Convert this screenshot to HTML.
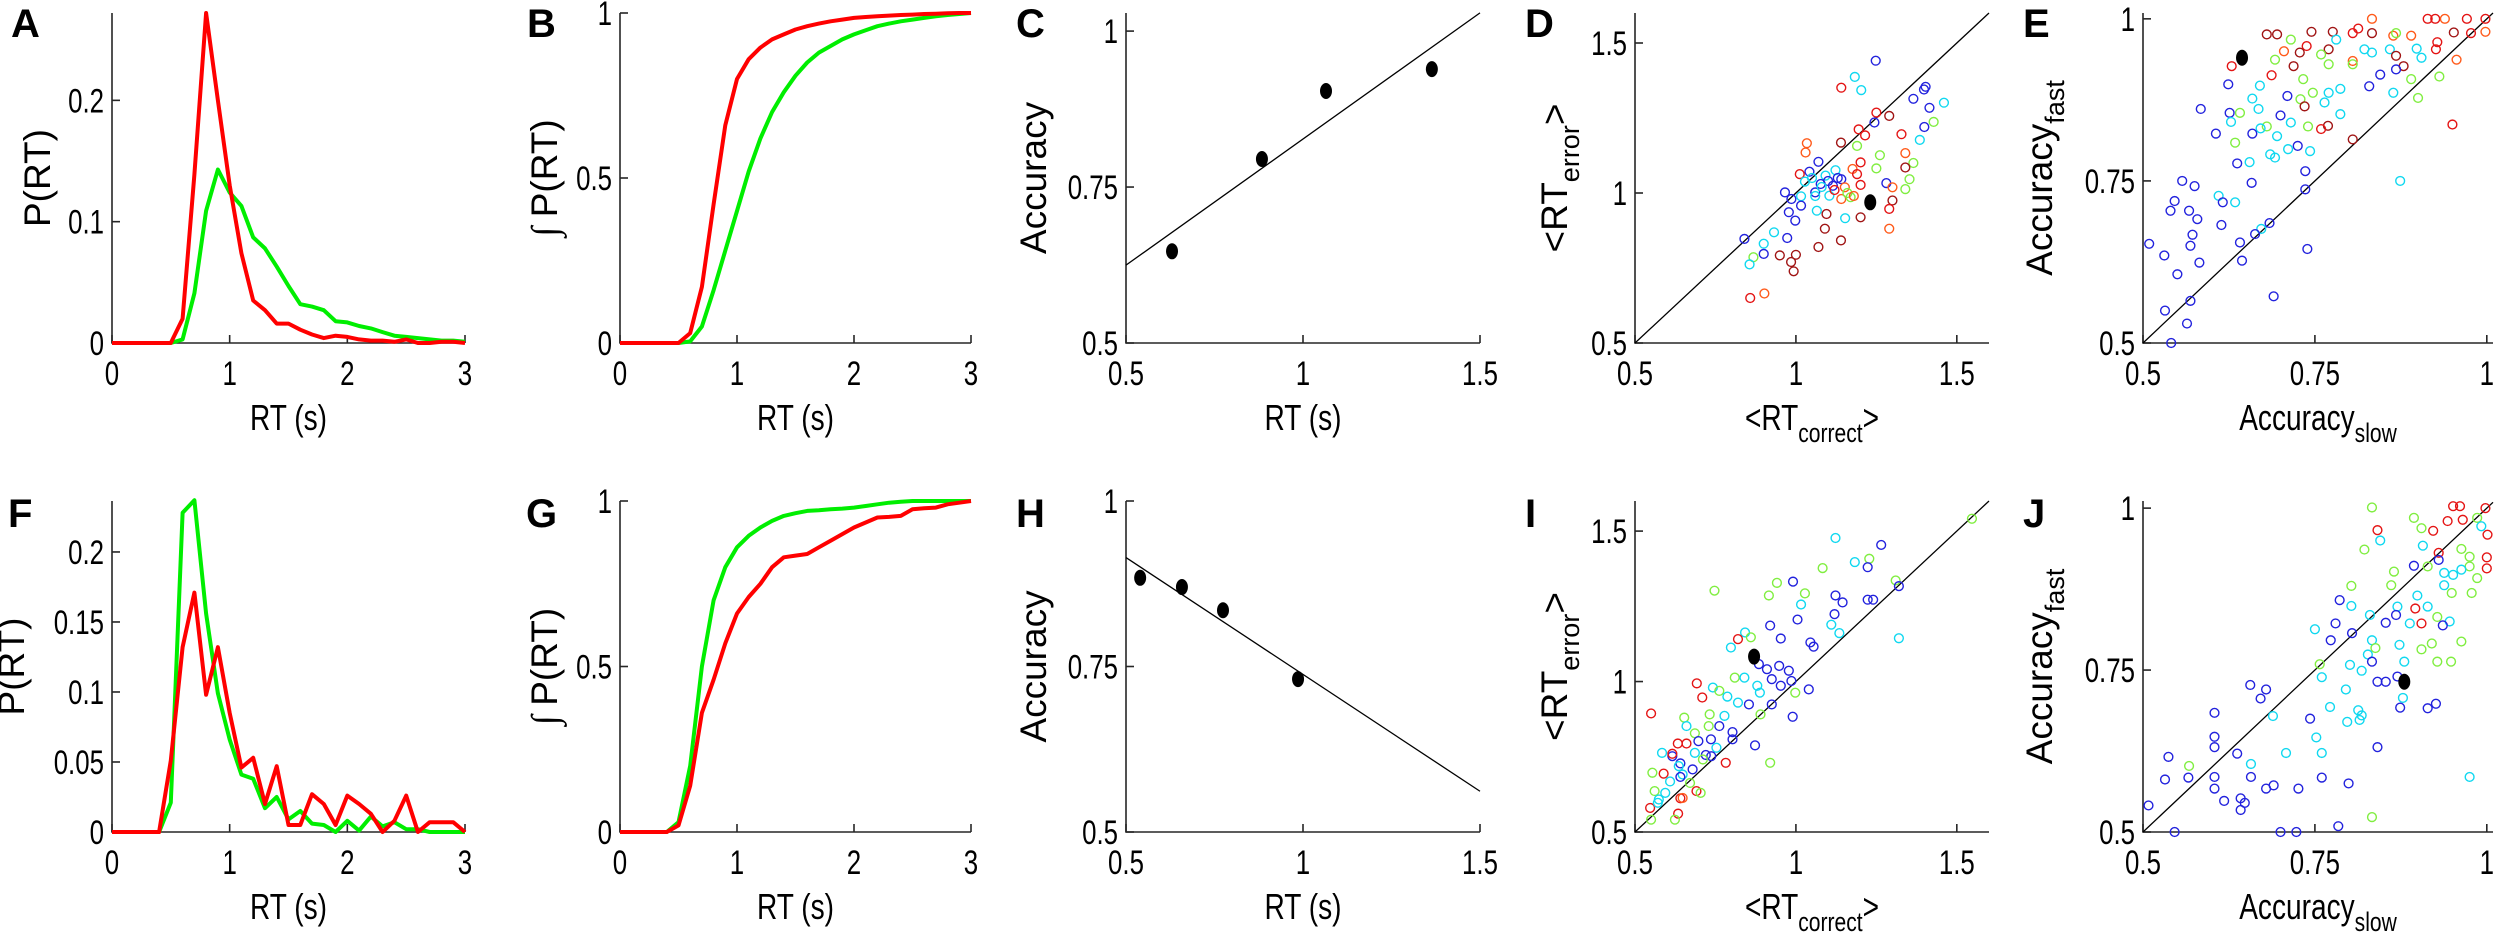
<!DOCTYPE html>
<html><head><meta charset="utf-8">
<style>
html,body{margin:0;padding:0;background:#fff;}
svg{display:block;}
text{font-family:"Liberation Sans",sans-serif;fill:#000;}
</style></head>
<body>
<svg id="fig" width="2500" height="937" viewBox="0 0 2500 937" xmlns="http://www.w3.org/2000/svg"></svg>
<script>
// ---------- DATA ----------
const rtBins = [0,0.1,0.2,0.3,0.4,0.5,0.6,0.7,0.8,0.9,1.0,1.1,1.2,1.3,1.4,1.5,1.6,1.7,1.8,1.9,2.0,2.1,2.2,2.3,2.4,2.5,2.6,2.7,2.8,2.9,3.0];
const aRed   = [0,0,0,0,0,0,0.02,0.139,0.272,0.2,0.13,0.074,0.035,0.027,0.016,0.016,0.011,0.007,0.004,0.006,0.005,0.003,0.002,0.002,0.001,0.003,0,0,0.001,0.001,0];
const aGreen = [0,0,0,0,0,0,0.003,0.041,0.109,0.143,0.124,0.113,0.087,0.078,0.063,0.047,0.032,0.030,0.027,0.018,0.017,0.014,0.012,0.009,0.006,0.005,0.004,0.003,0.002,0.002,0.001];
const bRed   = [0,0,0,0,0,0,0.03,0.17,0.42,0.66,0.80,0.86,0.895,0.92,0.935,0.95,0.96,0.968,0.975,0.98,0.985,0.988,0.99,0.992,0.994,0.995,0.997,0.998,0.999,1,1];
const bGreen = [0,0,0,0,0,0,0.005,0.05,0.16,0.28,0.40,0.52,0.62,0.70,0.76,0.81,0.85,0.88,0.90,0.92,0.935,0.948,0.96,0.968,0.975,0.98,0.985,0.99,0.994,0.997,1];
const fRed   = [0,0,0,0,0,0.051,0.132,0.171,0.098,0.132,0.085,0.046,0.053,0.02,0.047,0.005,0.005,0.027,0.02,0.005,0.026,0.02,0.013,0,0.008,0.026,0,0.007,0.007,0.007,0];
const fGreen = [0,0,0,0,0,0.021,0.228,0.237,0.156,0.099,0.066,0.041,0.038,0.017,0.025,0.009,0.015,0.006,0.005,0,0.008,0.001,0.011,0.004,0.007,0.002,0.002,0,0,0,0];
const gRed   = [0,0,0,0,0,0.02,0.14,0.36,0.46,0.57,0.66,0.71,0.75,0.80,0.83,0.835,0.84,0.86,0.88,0.90,0.92,0.935,0.95,0.952,0.955,0.975,0.978,0.98,0.99,0.995,1];
const gGreen = [0,0,0,0,0,0.03,0.2,0.5,0.70,0.80,0.86,0.895,0.92,0.94,0.955,0.963,0.97,0.972,0.975,0.977,0.98,0.985,0.99,0.995,0.998,1,1,1,1,1,1];
const cRT  = [0.63,0.884,1.065,1.364];
const cAcc = [0.647,0.795,0.904,0.939];
const hRT  = [0.54,0.658,0.774,0.986];
const hAcc = [0.884,0.870,0.835,0.731];
// scatter D
const dX = [1.248,1.183,1.141,1.203,1.403,1.398,1.365,1.46,1.415,1.29,1.25,1.244,1.428,1.399,1.195,1.215,1.328,1.385,1.14,1.034,1.19,1.34,1.03,1.261,1.201,1.365,1.34,1.07,1.123,1.176,1.25,1.042,1.012,1.092,1.141,1.19,1.353,0.966,1.028,1.077,1.115,1.152,1.201,1.281,1.3,1.34,0.986,1.016,1.06,1.104,1.141,1.17,1.3,1.016,1.065,1.095,1.153,0.978,1.29,1.201,0.998,1.09,1.29,0.932,0.973,0.84,1.14,0.9,1.07,0.95,0.9,1.0,0.868,0.856,0.985,0.993,0.858,0.902,1.05,1.1,1.12,1.08,1.16,1.13,1.06,1.18];
const dY = [1.441,1.387,1.351,1.343,1.354,1.345,1.314,1.301,1.284,1.257,1.268,1.235,1.237,1.22,1.212,1.192,1.196,1.177,1.168,1.166,1.157,1.133,1.135,1.126,1.102,1.1,1.085,1.104,1.076,1.08,1.082,1.071,1.063,1.058,1.046,1.063,1.046,1.002,1.038,1.03,1.024,1.019,1.027,1.033,1.019,1.013,0.98,0.989,1.002,0.991,0.98,0.986,0.975,0.958,0.941,0.93,0.916,0.936,0.947,0.919,0.908,0.881,0.881,0.869,0.85,0.847,0.842,0.831,0.82,0.792,0.797,0.794,0.786,0.762,0.77,0.739,0.65,0.665,1.05,1.04,1.01,1.02,1.0,1.05,0.99,0.99];
const dC = ["b","c","r","c","b","b","b","c","b","dr","r","b","g","b","r","r","r","c","dr","o","g","o","o","g","r","g","dr","b","c","o","g","b","r","c","b","r","g","b","c","b","b","o","r","b","o","g","b","c","b","c","o","g","dr","b","c","dr","c","b","r","dr","b","dr","o","c","b","b","dr","c","dr","dr","b","dr","g","c","dr","dr","r","o","c","b","r","c","g","b","c","o"];
const dSelX = [1.231], dSelY = [0.969];
// scatter E
const eX = [0.833,0.914,0.925,0.939,0.971,0.998,0.864,0.89,0.868,0.805,0.833,0.813,0.745,0.776,0.68,0.695,0.715,0.781,0.928,0.977,0.998,0.952,0.738,0.77,0.822,0.859,0.898,0.926,0.705,0.728,0.759,0.805,0.833,0.868,0.905,0.956,0.692,0.719,0.77,0.805,0.879,0.629,0.687,0.733,0.845,0.868,0.931,0.89,0.624,0.67,0.747,0.787,0.77,0.829,0.659,0.71,0.729,0.764,0.864,0.9,0.584,0.641,0.668,0.735,0.626,0.7,0.787,0.628,0.68,0.715,0.74,0.769,0.759,0.671,0.606,0.659,0.695,0.805,0.634,0.725,0.711,0.685,0.743,0.655,0.637,0.692,0.736,0.95,0.874,0.658,0.557,0.575,0.546,0.54,0.567,0.579,0.61,0.616,0.634,0.614,0.684,0.672,0.663,0.572,0.509,0.569,0.641,0.739,0.531,0.582,0.644,0.55,0.736,0.569,0.532,0.69,0.564,0.541];
const eY = [1.0,1.0,1.0,1.0,1.0,1.0,0.974,0.974,0.978,0.978,0.978,0.985,0.98,0.98,0.976,0.976,0.968,0.968,0.964,0.978,0.98,0.979,0.958,0.953,0.953,0.953,0.954,0.953,0.95,0.948,0.945,0.935,0.948,0.943,0.94,0.937,0.937,0.927,0.93,0.93,0.927,0.927,0.913,0.907,0.914,0.922,0.911,0.907,0.899,0.897,0.886,0.892,0.886,0.896,0.877,0.881,0.876,0.871,0.886,0.878,0.861,0.855,0.861,0.865,0.855,0.851,0.853,0.841,0.834,0.84,0.834,0.835,0.83,0.831,0.823,0.823,0.819,0.814,0.809,0.804,0.799,0.791,0.796,0.779,0.777,0.786,0.765,0.837,0.75,0.747,0.75,0.742,0.719,0.704,0.704,0.691,0.727,0.717,0.717,0.682,0.685,0.676,0.668,0.667,0.653,0.65,0.655,0.645,0.635,0.624,0.627,0.606,0.737,0.565,0.55,0.572,0.53,0.5];
const eC = ["o","r","r","o","r","r","o","o","g","r","dr","r","dr","dr","dr","dr","g","c","r","r","o","dr","r","dr","c","c","c","r","o","dr","g","o","c","dr","c","o","g","dr","g","g","dr","r","r","g","b","b","g","g","b","c","g","c","c","b","c","b","g","c","c","g","b","g","c","dr","b","b","c","c","g","c","g","dr","r","c","b","b","c","dr","g","b","c","c","c","c","b","c","b","r","c","b","b","b","b","b","b","b","c","b","c","b","b","c","b","b","b","b","b","b","b","b","b","b","b","b","b","b","b","b"];
const eSelX = [0.644], eSelY = [0.94];
// scatter I
const iX = [1.547,1.123,1.265,1.183,1.228,1.223,1.083,1.31,1.32,0.991,0.941,0.747,1.028,0.916,1.123,1.145,1.223,1.24,1.016,1.12,1.005,0.92,1.11,1.135,1.32,0.953,0.842,0.86,0.82,1.045,1.055,0.798,0.885,0.81,0.84,0.91,0.948,0.978,0.925,0.88,0.953,0.986,1.04,0.998,0.888,0.692,0.742,0.762,0.709,0.787,0.854,0.82,0.925,0.89,0.99,0.778,0.732,0.653,0.55,0.762,0.66,0.729,0.803,0.686,0.873,0.633,0.66,0.697,0.736,0.753,0.803,0.584,0.616,0.686,0.72,0.737,0.782,0.92,0.616,0.641,0.711,0.679,0.636,0.554,0.589,0.648,0.609,0.641,0.671,0.561,0.594,0.641,0.691,0.704,0.574,0.648,0.547,0.571,0.634,0.624,0.55];
const iY = [1.541,1.477,1.454,1.397,1.408,1.38,1.377,1.336,1.317,1.332,1.328,1.302,1.293,1.286,1.286,1.263,1.272,1.272,1.256,1.224,1.206,1.186,1.189,1.161,1.144,1.143,1.163,1.147,1.141,1.13,1.116,1.113,1.058,1.013,1.013,1.041,1.052,1.036,1.008,0.986,0.986,1.002,0.974,0.963,0.963,0.994,0.98,0.969,0.947,0.95,0.924,0.93,0.924,0.891,0.883,0.886,0.891,0.88,0.894,0.852,0.852,0.852,0.832,0.828,0.788,0.794,0.794,0.802,0.808,0.78,0.808,0.763,0.752,0.763,0.756,0.752,0.73,0.73,0.76,0.728,0.741,0.708,0.719,0.697,0.694,0.691,0.668,0.683,0.663,0.636,0.63,0.612,0.636,0.63,0.608,0.613,0.58,0.597,0.561,0.541,0.541];
const iC = ["g","c","b","c","g","b","g","g","b","b","g","g","g","g","b","b","b","b","c","b","b","b","c","c","c","b","c","g","r","b","b","c","b","g","c","b","b","b","b","c","b","b","b","g","c","r","c","g","r","c","b","c","b","g","b","c","g","g","r","b","c","g","b","g","b","r","r","b","b","c","b","c","b","c","b","b","r","g","r","b","g","b","c","g","r","c","c","b","g","g","c","r","r","g","c","o","r","c","r","g","g"];
const iSelX = [0.87], iSelY = [1.083];
// scatter J
const jX = [0.833,0.951,0.961,0.998,0.894,0.905,0.922,0.943,0.965,0.986,0.992,1.001,0.841,0.845,0.822,0.907,0.93,0.963,0.975,1.0,1.0,0.975,0.914,0.93,0.894,0.865,0.938,0.951,0.963,0.986,0.861,0.803,0.938,0.949,0.978,0.899,0.786,0.803,0.87,0.914,0.896,0.83,0.868,0.928,0.905,0.946,0.75,0.78,0.853,0.888,0.936,0.804,0.833,0.773,0.873,0.92,0.963,0.838,0.905,0.827,0.801,0.833,0.88,0.757,0.928,0.948,0.818,0.76,0.841,0.853,0.87,0.656,0.679,0.671,0.795,0.772,0.878,0.874,0.914,0.926,0.604,0.689,0.743,0.813,0.818,0.797,0.815,0.604,0.604,0.752,0.708,0.76,0.841,0.537,0.637,0.657,0.567,0.566,0.532,0.604,0.657,0.76,0.975,0.604,0.69,0.679,0.726,0.799,0.642,0.618,0.648,0.642,0.508,0.833,0.784,0.546,0.7,0.723];
const jY = [1.001,1.003,1.003,1.0,0.985,0.969,0.965,0.98,0.982,0.985,0.972,0.959,0.966,0.95,0.936,0.942,0.931,0.937,0.925,0.924,0.907,0.91,0.91,0.92,0.911,0.902,0.9,0.897,0.905,0.892,0.881,0.88,0.881,0.869,0.869,0.865,0.858,0.849,0.848,0.848,0.845,0.835,0.835,0.832,0.822,0.825,0.813,0.822,0.823,0.822,0.819,0.807,0.796,0.796,0.789,0.791,0.794,0.784,0.782,0.774,0.758,0.763,0.763,0.759,0.763,0.763,0.749,0.739,0.732,0.732,0.74,0.727,0.72,0.706,0.72,0.693,0.707,0.692,0.691,0.698,0.684,0.679,0.675,0.688,0.68,0.67,0.673,0.647,0.631,0.646,0.622,0.622,0.631,0.616,0.621,0.605,0.602,0.584,0.581,0.585,0.585,0.584,0.585,0.567,0.572,0.567,0.567,0.575,0.552,0.548,0.545,0.534,0.541,0.523,0.509,0.5,0.5,0.5];
const jC = ["g","r","r","r","g","g","r","r","r","g","c","r","r","c","g","c","r","g","g","r","r","g","g","b","b","g","c","c","c","g","g","g","c","g","g","c","b","c","c","c","r","c","b","g","r","c","c","b","b","c","b","b","c","b","c","g","g","g","g","c","c","b","c","g","g","g","c","c","b","b","b","b","b","b","c","c","c","b","b","b","b","c","b","c","c","c","c","b","b","c","c","c","b","b","b","c","g","b","b","b","b","b","c","b","b","b","b","b","b","b","b","b","b","g","b","b","b","b"];
const jSelX = [0.88], jSelY = [0.732];

// ---------- HELPERS ----------
const NS = "http://www.w3.org/2000/svg";
const svg = document.getElementById("fig");
const COLORS = {b:"#2222dd", c:"#10d8f0", g:"#80ee40", o:"#ff5a1a", r:"#e41414", dr:"#a01414"};
function mk(tag, attrs, parent){
  const e = document.createElementNS(NS, tag);
  for (const k in attrs) e.setAttribute(k, attrs[k]);
  (parent||svg).appendChild(e);
  return e;
}
function narrow(t, f){
  const w = t.getComputedTextLength();
  if (w > 0){ t.setAttribute("textLength", (w*f).toFixed(1)); t.setAttribute("lengthAdjust","spacingAndGlyphs"); }
}
function makeAxes(p){
  const g = mk("g", {});
  
  
  p.sx = v => p.L + (v - p.x0)/(p.x1 - p.x0)*(p.R - p.L);
  p.sy = v => p.B - (v - p.y0)/(p.y1 - p.y0)*(p.B - p.T);
  p.g = g;
  const ax = mk("path", {d:`M${p.L},${p.T}V${p.B}H${p.R}`, fill:"none", stroke:"#262626", "stroke-width":1.6}, g);
  
  
  p.xt.forEach((v,i) => {
    const x = p.sx(v);
    mk("line", {x1:x, x2:x, y1:p.B, y2:p.B-8, stroke:"#262626","stroke-width":1.6}, g);
    const t = mk("text", {x:x, y:p.B+42, "text-anchor":"middle", "font-size":34}, g);
    t.textContent = p.xtl[i];
    
    
    narrow(t, 0.76);
  });
  p.yt.forEach((v,i) => {
    const y = p.sy(v);
    mk("line", {x1:p.L, x2:p.L+8, y1:y, y2:y, stroke:"#262626","stroke-width":1.6}, g);
    const t = mk("text", {x:p.L-8, y:y+12, "text-anchor":"end", "font-size":34}, g);
    t.textContent = p.ytl[i];
    
    
    narrow(t, 0.76);
  });
  const L = mk("text", {x:p.lx, y:p.ly, "font-size":40, "font-weight":"bold"}, g);
  L.textContent = p.letter;
  
  
  return p;
}
function xlabel(p, parts){
  const t = mk("text", {x:(p.L+p.R)/2, y:p.B+87, "text-anchor":"middle", "font-size":36}, p.g);
  
  
  parts.forEach(s => {
    const ts = mk("tspan", {}, t);
    if (s.sub){ ts.setAttribute("font-size", 27); ts.setAttribute("dy", 12); }
    else if (s.after){ ts.setAttribute("dy", -12); }
    ts.textContent = s.t;
  });
  narrow(t, 0.78);
}
function ylabel(p, x, parts){
  const cy = (p.T+p.B)/2;
  const t = mk("text", {x:x, y:cy, "text-anchor":"middle", "font-size":37, transform:`rotate(-90 ${x} ${cy})`}, p.g);
  
  
  parts.forEach(s => {
    const ts = mk("tspan", {}, t);
    if (s.sub){ ts.setAttribute("font-size", 27); ts.setAttribute("dy", 12); }
    else if (s.after){ ts.setAttribute("dy", -12); }
    if (s.serif){ ts.setAttribute("font-family", "Liberation Serif, serif"); ts.setAttribute("font-style","italic"); }
    ts.textContent = s.t;
  });
}
function line(p, xs, ys, color, name){
  let d = "";
  xs.forEach((v,i) => { d += (i?"L":"M") + p.sx(v).toFixed(1) + "," + p.sy(ys[i]).toFixed(1); });
  const e = mk("path", {d:d, fill:"none", stroke:color, "stroke-width":4, "stroke-linejoin":"round"}, p.g);
  
  
}
function refLine(p, xa, ya, xb, yb, name){
  const e = mk("line", {x1:p.sx(xa), y1:p.sy(ya), x2:p.sx(xb), y2:p.sy(yb), stroke:"#000","stroke-width":1.3}, p.g);
  
  
}
function dots(p, xs, ys, name){
  xs.forEach((v,i) => {
    const e = mk("ellipse", {cx:p.sx(v), cy:p.sy(ys[i]), rx:6, ry:8, fill:"#000"}, p.g);
    
    
  });
}
function scatter(p, xs, ys, cs, name){
  xs.forEach((v,i) => {
    const e = mk("circle", {cx:p.sx(v), cy:p.sy(ys[i]), r:4.4, fill:"none", stroke:COLORS[cs[i]], "stroke-width":1.4}, p.g);
    
    
  });
}
function regression(xs, ys){
  const n = xs.length;
  const mx = xs.reduce((a,b)=>a+b,0)/n, my = ys.reduce((a,b)=>a+b,0)/n;
  let sxy=0, sxx=0;
  xs.forEach((x,i)=>{ sxy += (x-mx)*(ys[i]-my); sxx += (x-mx)*(x-mx); });
  const m = sxy/sxx;
  return v => my + m*(v-mx);
}
// ---------- PANELS ----------
const rtX = {x0:0,x1:3,xt:[0,1,2,3],xtl:["0","1","2","3"]};
const accX = {x0:0.5,x1:1.5,xt:[0.5,1,1.5],xtl:["0.5","1","1.5"]};

// A
let A = makeAxes(Object.assign({name:"a",letter:"A",lx:11,ly:37,L:112,R:465,T:13,B:343,y0:0,y1:0.272,yt:[0,0.1,0.2],ytl:["0","0.1","0.2"]}, rtX));
line(A, rtBins, aGreen, "#00ee00", "a-green-line");
line(A, rtBins, aRed, "#ff0000", "a-red-line");
xlabel(A, [{t:"RT (s)"}]); ylabel(A, 50, [{t:"P(RT)"}]);
// B
let B = makeAxes(Object.assign({name:"b",letter:"B",lx:527,ly:37,L:620,R:971,T:13,B:343,y0:0,y1:1,yt:[0,0.5,1],ytl:["0","0.5","1"]}, rtX));
line(B, rtBins, bGreen, "#00ee00", "b-green-line");
line(B, rtBins, bRed, "#ff0000", "b-red-line");
xlabel(B, [{t:"RT (s)"}]); ylabel(B, 557, [{t:"∫ ",serif:true},{t:"P(RT)"}]);
// C
let C = makeAxes(Object.assign({name:"c",letter:"C",lx:1016,ly:37,L:1126,R:1480,T:13,B:343,y0:0.5,y1:1.029,yt:[0.5,0.75,1],ytl:["0.5","0.75","1"]}, accX));
const fc = regression(cRT, cAcc);
refLine(C, 0.5, fc(0.5), 1.5, fc(1.5), "c-fit-line");
dots(C, cRT, cAcc, "c-data-point");
xlabel(C, [{t:"RT (s)"}]); ylabel(C, 1046, [{t:"Accuracy"}]);
// D
let D = makeAxes({name:"d",letter:"D",lx:1525,ly:37,L:1635,R:1989,T:13,B:343,x0:0.5,x1:1.6,y0:0.5,y1:1.6,xt:[0.5,1,1.5],xtl:["0.5","1","1.5"],yt:[0.5,1,1.5],ytl:["0.5","1","1.5"]});
refLine(D, 0.5, 0.5, 1.6, 1.6, "d-identity-line");
scatter(D, dX, dY, dC, "d-subject-point");
dots(D, dSelX, dSelY, "d-highlight-point");
xlabel(D, [{t:"<RT"},{t:"correct",sub:true},{t:">",after:true}]);
ylabel(D, 1567, [{t:"<RT"},{t:"error",sub:true},{t:">",after:true}]);
// E
let E = makeAxes({name:"e",letter:"E",lx:2023,ly:37,L:2143,R:2493,T:13,B:343,x0:0.5,x1:1.009,y0:0.5,y1:1.009,xt:[0.5,0.75,1],xtl:["0.5","0.75","1"],yt:[0.5,0.75,1],ytl:["0.5","0.75","1"]});
refLine(E, 0.5, 0.5, 1.009, 1.009, "e-identity-line");
scatter(E, eX, eY, eC, "e-subject-point");
dots(E, eSelX, eSelY, "e-highlight-point");
xlabel(E, [{t:"Accuracy"},{t:"slow",sub:true}]);
ylabel(E, 2052, [{t:"Accuracy"},{t:"fast",sub:true}]);

// F
let F = makeAxes(Object.assign({name:"f",letter:"F",lx:8,ly:527,L:112,R:465,T:501,B:832,y0:0,y1:0.2364,yt:[0,0.05,0.1,0.15,0.2],ytl:["0","0.05","0.1","0.15","0.2"]}, rtX));
line(F, rtBins, fGreen, "#00ee00", "f-green-line");
line(F, rtBins, fRed, "#ff0000", "f-red-line");
xlabel(F, [{t:"RT (s)"}]); ylabel(F, 24, [{t:"P(RT)"}]);
// G
let G = makeAxes(Object.assign({name:"g",letter:"G",lx:526,ly:527,L:620,R:971,T:501,B:832,y0:0,y1:1,yt:[0,0.5,1],ytl:["0","0.5","1"]}, rtX));
line(G, rtBins, gGreen, "#00ee00", "g-green-line");
line(G, rtBins, gRed, "#ff0000", "g-red-line");
xlabel(G, [{t:"RT (s)"}]); ylabel(G, 557, [{t:"∫ ",serif:true},{t:"P(RT)"}]);
// H
let H = makeAxes(Object.assign({name:"h",letter:"H",lx:1016,ly:527,L:1126,R:1480,T:501,B:832,y0:0.5,y1:1,yt:[0.5,0.75,1],ytl:["0.5","0.75","1"]}, accX));
const fh = regression(hRT, hAcc);
refLine(H, 0.5, fh(0.5), 1.5, fh(1.5), "h-fit-line");
dots(H, hRT, hAcc, "h-data-point");
xlabel(H, [{t:"RT (s)"}]); ylabel(H, 1046, [{t:"Accuracy"}]);
// I
let I = makeAxes({name:"i",letter:"I",lx:1525,ly:527,L:1635,R:1989,T:501,B:832,x0:0.5,x1:1.6,y0:0.5,y1:1.6,xt:[0.5,1,1.5],xtl:["0.5","1","1.5"],yt:[0.5,1,1.5],ytl:["0.5","1","1.5"]});
refLine(I, 0.5, 0.5, 1.6, 1.6, "i-identity-line");
scatter(I, iX, iY, iC, "i-subject-point");
dots(I, iSelX, iSelY, "i-highlight-point");
xlabel(I, [{t:"<RT"},{t:"correct",sub:true},{t:">",after:true}]);
ylabel(I, 1567, [{t:"<RT"},{t:"error",sub:true},{t:">",after:true}]);
// J
let J = makeAxes({name:"j",letter:"J",lx:2023,ly:527,L:2143,R:2493,T:501,B:832,x0:0.5,x1:1.009,y0:0.5,y1:1.011,xt:[0.5,0.75,1],xtl:["0.5","0.75","1"],yt:[0.5,0.75,1],ytl:["0.5","0.75","1"]});
refLine(J, 0.5, 0.5, 1.009, 1.009, "j-identity-line");
scatter(J, jX, jY, jC, "j-subject-point");
dots(J, jSelX, jSelY, "j-highlight-point");
xlabel(J, [{t:"Accuracy"},{t:"slow",sub:true}]);
ylabel(J, 2052, [{t:"Accuracy"},{t:"fast",sub:true}]);
</script>
</body></html>
